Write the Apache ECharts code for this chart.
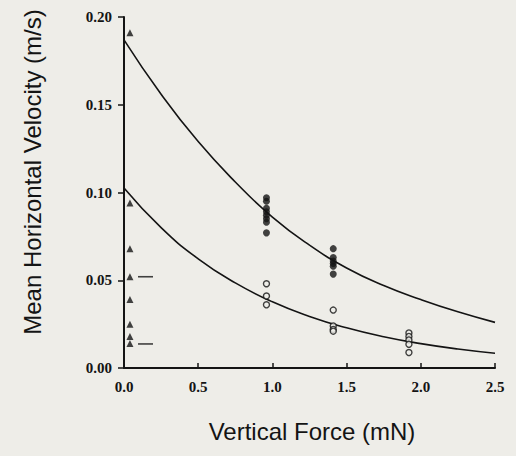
<!DOCTYPE html>
<html>
<head>
<meta charset="utf-8">
<script src="https://cdn.jsdelivr.net/npm/echarts@6/dist/echarts.min.js"></script>
<style>
html,body{margin:0;padding:0;background:#eeede8;}
#c{width:516px;height:456px;}
</style>
</head>
<body>
<div id="c"></div>
<script>
// Tick labels
var xTicks = [0, 0.5, 1.0, 1.5, 2.0, 2.5];
var yTicks = [0, 0.05, 0.10, 0.15, 0.20];

// Triangles (near-zero vertical force)
var triX = [0.04, 0.04, 0.04, 0.04, 0.04, 0.04, 0.04, 0.04];
var triY = [0.191, 0.094, 0.068, 0.052, 0.039, 0.025, 0.018, 0.014];

// Mean dashes beside triangles
var dashX = [0.145, 0.145];
var dashY = [0.052, 0.0137];

// Filled circles
var filledX = [0.96, 0.96, 0.96, 0.96, 0.96, 0.96, 0.96, 0.96,
               1.41, 1.41, 1.41, 1.41, 1.41, 1.41];
var filledY = [0.097, 0.095, 0.091, 0.089, 0.087, 0.085, 0.083, 0.077,
               0.068, 0.063, 0.061, 0.0595, 0.058, 0.0535];

// Open circles
var openX = [0.96, 0.96, 0.96,
             1.41, 1.41, 1.41, 1.41,
             1.92, 1.92, 1.92, 1.92, 1.92];
var openY = [0.048, 0.041, 0.036,
             0.033, 0.024, 0.022, 0.021,
             0.020, 0.018, 0.016, 0.0135, 0.0088];

// Fitted curves
var curveX = [0, 0.25, 0.5, 0.75, 1.0, 1.25, 1.5, 1.75, 2.0, 2.25, 2.5];
var upperY = [0.187, 0.156, 0.129, 0.106, 0.086, 0.070, 0.057, 0.047, 0.039, 0.032, 0.026];
var lowerY = [0.1026, 0.080, 0.0622, 0.0485, 0.0377, 0.0294, 0.0229, 0.0178, 0.0139, 0.0108, 0.0084];

function pairs(xs, ys){ return xs.map(function(x,i){ return [x, ys[i]]; }); }

var ink = '#141414';
var chart = echarts.init(document.getElementById('c'), null, {renderer:'svg'});
chart.setOption({
  backgroundColor: '#eeede8',
  animation: false,
  grid: {left: 124, right: 21, top: 17, bottom: 88},
  xAxis: {
    type: 'value', min: 0, max: 2.5, interval: 0.5,
    axisLine: {lineStyle: {color: ink, width: 2}},
    axisTick: {inside: true, length: 5, lineStyle: {color: ink, width: 1.5}},
    axisLabel: {
      margin: 11, color: ink, fontFamily: 'Liberation Serif', fontWeight: 'bold', fontSize: 15,
      formatter: function(v){ var t = xTicks.filter(function(k){return Math.abs(k-v)<1e-9;}); return t.length ? t[0].toFixed(1) : ''; }
    },
    splitLine: {show: false}
  },
  yAxis: {
    type: 'value', min: 0, max: 0.2, interval: 0.05,
    axisLine: {show: true, lineStyle: {color: ink, width: 2}},
    axisTick: {show: true, inside: false, length: 6, lineStyle: {color: ink, width: 1.5}},
    axisLabel: {
      margin: 12, color: ink, fontFamily: 'Liberation Serif', fontWeight: 'bold', fontSize: 15,
      formatter: function(v){ var t = yTicks.filter(function(k){return Math.abs(k-v)<1e-9;}); return t.length ? t[0].toFixed(2) : ''; }
    },
    splitLine: {show: false}
  },
  graphic: [
    {type: 'text', x: 32, y: 172, rotation: Math.PI/2,
     style: {text: 'Mean Horizontal Velocity (m/s)', fill: ink, font: '24px "Liberation Sans", Arial, sans-serif', align: 'center', verticalAlign: 'middle'}},
    {type: 'text', x: 312, y: 431,
     style: {text: 'Vertical Force (mN)', fill: ink, font: '24px "Liberation Sans", Arial, sans-serif', align: 'center', verticalAlign: 'middle'}}
  ],
  series: [
    {type: 'line', data: pairs(curveX, upperY), smooth: true, showSymbol: false,
     lineStyle: {color: ink, width: 1.6}, z: 2},
    {type: 'line', data: pairs(curveX, lowerY), smooth: true, showSymbol: false,
     lineStyle: {color: ink, width: 1.6}, z: 2},
    {type: 'scatter', data: pairs(triX, triY), symbol: 'triangle', symbolSize: 7,
     itemStyle: {color: ink}, z: 3},
    {type: 'scatter', data: pairs(dashX, dashY), symbol: 'rect', symbolSize: [15, 1.6],
     itemStyle: {color: ink}, z: 3},
    {type: 'scatter', data: pairs(filledX, filledY), symbol: 'circle', symbolSize: 7,
     itemStyle: {color: ink}, z: 3},
    {type: 'scatter', data: pairs(openX, openY), symbol: 'circle', symbolSize: 6,
     itemStyle: {color: '#eeede8', borderColor: ink, borderWidth: 1.4}, z: 4}
  ]
});
</script>
</body>
</html>
